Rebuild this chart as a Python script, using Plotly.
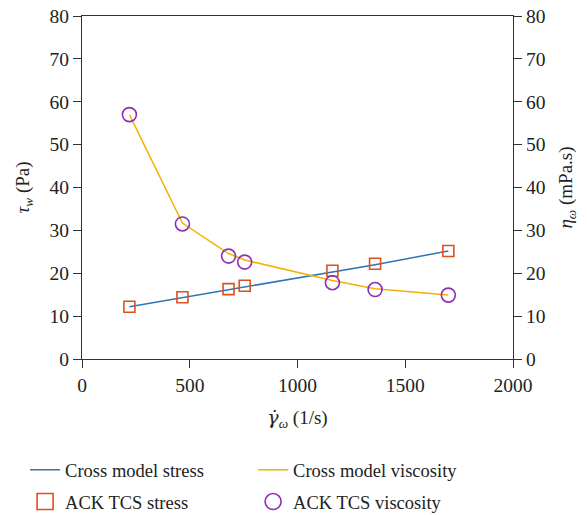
import plotly.graph_objects as go

# Shear rate (1/s) at the measured points
shear_rate = [220, 466, 680, 755, 1162, 1360, 1700]

# Wall shear stress (Pa): measured and Cross model
stress_measured = [12.2, 14.4, 16.3, 17.1, 20.6, 22.2, 25.2]
stress_model = [12.2, 14.3, 16.1, 16.8, 20.3, 22.0, 25.2]

# Wall viscosity (mPa.s): measured and Cross model
visc_measured = [57.0, 31.5, 24.0, 22.6, 17.8, 16.2, 14.9]
visc_model = [57.0, 31.7, 24.6, 23.1, 18.3, 16.4, 14.9]

y_ticks = [0, 10, 20, 30, 40, 50, 60, 70, 80]
x_ticks = [0, 500, 1000, 1500, 2000]

BLUE = "#2E75B6"
ORANGE = "#E0501A"
YELLOW = "#F2B300"
PURPLE = "#8E2DB8"
AXIS = "#333333"
TEXT = "#222222"
FONT = "Liberation Serif"

fig = go.Figure()

# Model curves
fig.add_trace(go.Scatter(x=shear_rate, y=stress_model, mode="lines",
                         line=dict(color=BLUE, width=1.5), showlegend=False))
fig.add_trace(go.Scatter(x=shear_rate, y=visc_model, mode="lines", yaxis="y2",
                         line=dict(color=YELLOW, width=1.5), showlegend=False))
# Measured points
fig.add_trace(go.Scatter(x=shear_rate, y=stress_measured, mode="markers",
                         marker=dict(symbol="square-open", size=11, color=ORANGE,
                                     line=dict(width=1.6)), showlegend=False))
fig.add_trace(go.Scatter(x=shear_rate, y=visc_measured, mode="markers", yaxis="y2",
                         marker=dict(symbol="circle-open", size=14, color=PURPLE,
                                     line=dict(width=1.6)), showlegend=False))

# Legend entries: one legend per cell of a 2x2 grid
fig.add_trace(go.Scatter(x=[None], y=[None], mode="lines", name="Cross model stress",
                         line=dict(color=BLUE, width=1.5), legend="legend"))
fig.add_trace(go.Scatter(x=[None], y=[None], mode="lines", name="Cross model viscosity",
                         line=dict(color=YELLOW, width=1.5), legend="legend2"))
fig.add_trace(go.Scatter(x=[None], y=[None], mode="markers", name="ACK TCS stress",
                         marker=dict(symbol="square-open", size=16, color=ORANGE,
                                     line=dict(width=1.6)), legend="legend3"))
fig.add_trace(go.Scatter(x=[None], y=[None], mode="markers", name="ACK TCS viscosity",
                         marker=dict(symbol="circle-open", size=17, color=PURPLE,
                                     line=dict(width=1.6)), legend="legend4"))

axis_common = dict(showline=True, linecolor=AXIS, linewidth=1.3, ticks="outside",
                   ticklen=8, tickcolor=AXIS, tickwidth=1.3, showgrid=False,
                   zeroline=False, tickfont=dict(family=FONT, size=19.5, color=TEXT))

legend_common = dict(orientation="h", xanchor="left", yanchor="middle",
                     bgcolor="rgba(0,0,0,0)",
                     font=dict(family=FONT, size=18.5, color=TEXT))

title_font = dict(family=FONT, size=19, color=TEXT)
gamma_dot = '<span style="font-family:DejaVu Serif"><i>γ̇</i></span>'

fig.update_layout(
    width=587, height=515,
    margin=dict(l=82, r=74, t=16, b=156, autoexpand=False),
    plot_bgcolor="white", paper_bgcolor="white",
    xaxis=dict(range=[0, 2000], tickvals=x_ticks, mirror=True,
               title=dict(text=gamma_dot + "<sub><i>ω</i></sub> (1/s)", standoff=16,
                          font=title_font),
               **axis_common),
    yaxis=dict(range=[0, 80], tickvals=y_ticks,
               title=dict(text="<i>τ</i><sub><i>w</i></sub> (Pa)", standoff=14,
                          font=title_font),
               **axis_common),
    yaxis2=dict(range=[0, 80], tickvals=y_ticks, overlaying="y", side="right",
                title=dict(text="<i>η</i><sub><i>ω</i></sub> (mPa.s)", standoff=14,
                           font=title_font),
                **axis_common),
    legend=dict(x=-0.132, y=-0.324, **legend_common),
    legend2=dict(x=0.397, y=-0.324, **legend_common),
    legend3=dict(x=-0.132, y=-0.417, **legend_common),
    legend4=dict(x=0.397, y=-0.417, **legend_common),
)

fig.write_html("out.html")
